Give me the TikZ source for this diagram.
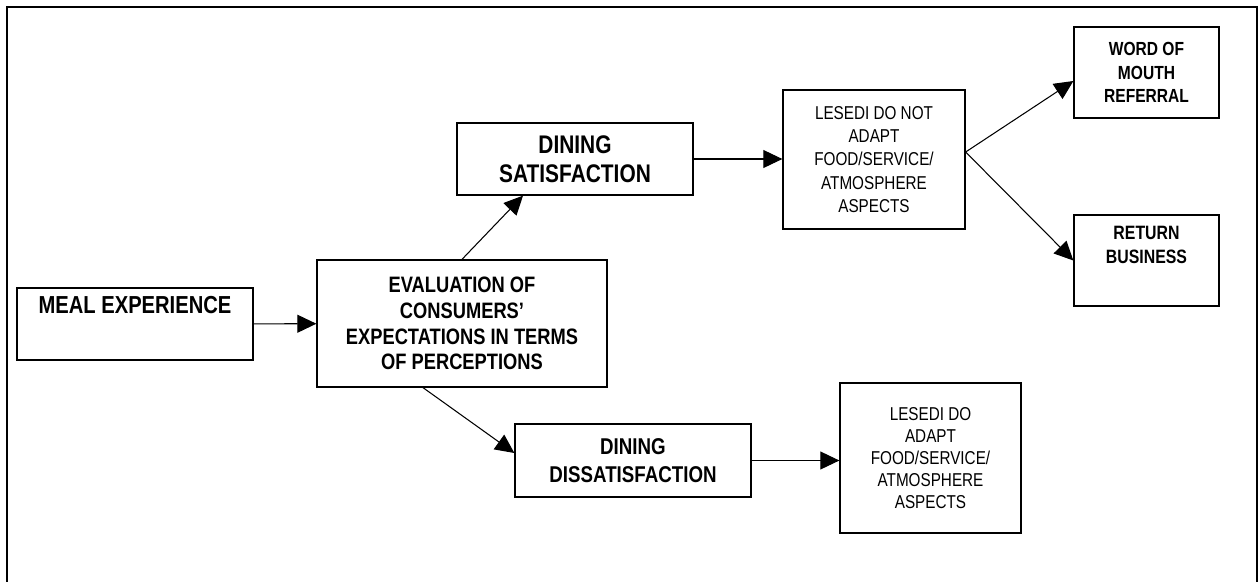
\documentclass[tikz,border=0pt]{standalone}
\usepackage{fontspec}
\setmainfont{Liberation Sans}[FakeStretch=0.82]
\usetikzlibrary{arrows.meta}

\begin{document}
\begin{tikzpicture}[x=0.02cm,y=-0.02cm,
  box/.style={draw,line width=.75pt,align=center,inner sep=0pt},
  >={Triangle[length=10.8pt,width=10.2pt]}]
  \useasboundingbox (0,0) rectangle (1259,582);
  \draw[line width=1.2pt] (7,582) -- (7,7) -- (1257,7) -- (1257,582);
  \node[box,minimum width=4.72cm,minimum height=1.44cm,font=\bfseries\fontsize{14}{16.5}\selectfont] (meal) at (135,324) {MEAL EXPERIENCE\\ \strut};
  \node[box,minimum width=5.8cm,minimum height=2.54cm,font=\bfseries\fontsize{12.7}{14.7}\selectfont] (eval) at (462,323.5) {EVALUATION OF\\ CONSUMERS'\\ EXPECTATIONS IN TERMS\\ OF PERCEPTIONS};
  \node[box,minimum width=4.72cm,minimum height=1.44cm,font=\bfseries\fontsize{14.5}{16.4}\selectfont] (sat) at (575,159) {DINING\\ SATISFACTION};
  \node[box,minimum width=4.72cm,minimum height=1.46cm,font=\bfseries\fontsize{13}{15.9}\selectfont] (dissat) at (633,460.5) {DINING\\ DISSATISFACTION};
  \node[box,minimum width=3.64cm,minimum height=2.78cm,font=\fontsize{10.6}{13.2}\selectfont] (adapt) at (874,159.5) {LESEDI DO NOT\\ ADAPT\\ FOOD/SERVICE/\\ ATMOSPHERE\\ ASPECTS};
  \node[box,minimum width=3.62cm,minimum height=3cm,font=\fontsize{10.6}{12.6}\selectfont] (adaptdo) at (930.5,458) {LESEDI DO\\ ADAPT\\ FOOD/SERVICE/\\ ATMOSPHERE\\ ASPECTS};
  \node[box,minimum width=2.9cm,minimum height=1.82cm,font=\bfseries\fontsize{10.8}{13.3}\selectfont] (word) at (1146.5,72.5) {WORD OF\\ MOUTH\\ REFERRAL};
  \node[box,minimum width=2.9cm,minimum height=1.82cm,font=\bfseries\fontsize{11}{13.6}\selectfont] (ret) at (1146.5,260.5) {RETURN\\ BUSINESS\\ \strut};
  \coordinate (fork) at ([yshift=.15cm]adapt.east);
  \path[->,line width=.6pt]
    (meal) edge (eval)
    (eval.north) edge ([xshift=-1.04cm]sat.south)
    ([xshift=-.78cm]eval.south) edge ([yshift=.15cm]dissat.west)
    (sat) edge (sat -| adapt.west)
    (dissat) edge (dissat -| adaptdo.west)
    (fork) edge ([yshift=-.17cm]word.west)
    (fork) edge (ret.west);
\end{tikzpicture}
\end{document}
